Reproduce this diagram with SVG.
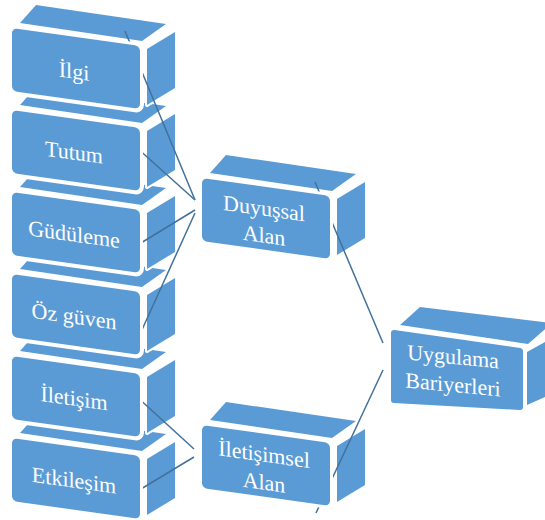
<svg xmlns="http://www.w3.org/2000/svg" xmlns:xlink="http://www.w3.org/1999/xlink" width="545" height="520" viewBox="0 0 545 520">
<style>
.face{fill:#5B9BD5;stroke:#fff;stroke-width:4;stroke-linejoin:round;paint-order:stroke}
.front{fill:#5B9BD5;stroke:#fff;stroke-width:8;paint-order:stroke}
.lbl{font-family:"Liberation Serif","Times New Roman",serif;font-size:22px;fill:#fff;text-anchor:middle}
.conn{fill:none;stroke:#41719C;stroke-width:1.5}
</style>
<defs>
<polygon id="top" points="8,-5 24,-23 154,-4 130,13"/>
<polygon id="side" points="135,21 163,4 163,60 135,77"/>
<rect id="ff" width="128" height="63" rx="5"/>
<mask id="hideFront" maskUnits="userSpaceOnUse" x="0" y="0" width="545" height="520">
<rect width="545" height="520" fill="#fff"/>
<g fill="#000" stroke="#000" stroke-width="6">
<use href="#ff" transform="translate(12,28) skewY(8)"/>
<use href="#ff" transform="translate(12,110) skewY(8)"/>
<use href="#ff" transform="translate(12,192) skewY(8)"/>
<use href="#ff" transform="translate(12,274) skewY(8)"/>
<use href="#ff" transform="translate(12,356) skewY(8)"/>
<use href="#ff" transform="translate(12,438) skewY(8)"/>
<use href="#ff" transform="translate(202,178) skewY(8)"/>
<use href="#ff" transform="translate(202,425) skewY(8)"/>
<polygon points="394,333 520,351 520,407 394,400" stroke-width="12" stroke-linejoin="round"/>
</g>
</mask>
</defs>

<g id="n-etkilesim">
<use href="#top" class="face" transform="translate(12,438)"/>
<use href="#side" class="face" transform="translate(12,438)"/>
<g transform="translate(12,438) skewY(8)"><use href="#ff" class="front"/><text class="lbl" x="62" y="41">Etkileşim</text></g>
</g>
<g id="n-iletisim">
<use href="#top" class="face" transform="translate(12,356)"/>
<use href="#side" class="face" transform="translate(12,356)"/>
<g transform="translate(12,356) skewY(8)"><use href="#ff" class="front"/><text class="lbl" x="62" y="41">İletişim</text></g>
</g>
<g id="n-ozguven">
<use href="#top" class="face" transform="translate(12,274)"/>
<use href="#side" class="face" transform="translate(12,274)"/>
<g transform="translate(12,274) skewY(8)"><use href="#ff" class="front"/><text class="lbl" x="62" y="41">Öz güven</text></g>
</g>
<g id="n-guduleme">
<use href="#top" class="face" transform="translate(12,192)"/>
<use href="#side" class="face" transform="translate(12,192)"/>
<g transform="translate(12,192) skewY(8)"><use href="#ff" class="front"/><text class="lbl" x="62" y="41">Güdüleme</text></g>
</g>
<g id="n-tutum">
<use href="#top" class="face" transform="translate(12,110)"/>
<use href="#side" class="face" transform="translate(12,110)"/>
<g transform="translate(12,110) skewY(8)"><use href="#ff" class="front"/><text class="lbl" x="62" y="41">Tutum</text></g>
</g>
<g id="n-ilgi">
<use href="#top" class="face" transform="translate(12,28)"/>
<use href="#side" class="face" transform="translate(12,28)"/>
<g transform="translate(12,28) skewY(8)"><use href="#ff" class="front"/><text class="lbl" x="62" y="42">İlgi</text></g>
</g>

<g id="n-duyussal">
<use href="#top" class="face" transform="translate(202,178)"/>
<use href="#side" class="face" transform="translate(202,178)"/>
<g transform="translate(202,178) skewY(8)"><use href="#ff" class="front"/><text class="lbl" x="62" y="29">Duyuşsal</text><text class="lbl" x="62" y="56">Alan</text></g>
</g>
<g id="n-iletisimsel">
<use href="#top" class="face" transform="translate(202,425)"/>
<use href="#side" class="face" transform="translate(202,425)"/>
<g transform="translate(202,425) skewY(8)"><use href="#ff" class="front"/><text class="lbl" x="62" y="28">İletişimsel</text><text class="lbl" x="62" y="56">Alan</text></g>
</g>
<g id="n-uygulama">
<polygon class="face" points="400,325 420,307 552,323 528,344"/>
<polygon class="face" points="527,352 556,336 556,392 527,405"/>
<polygon points="394,333 520,351 520,407 394,400" fill="#5B9BD5" stroke="#5B9BD5" stroke-width="6" stroke-linejoin="round"/>
<g transform="translate(391,330) skewY(5.5)"><text class="lbl" x="62" y="28">Uygulama</text><text class="lbl" x="62" y="56">Bariyerleri</text></g>
</g>

<g id="connectors" class="conn" mask="url(#hideFront)">
<line x1="125" y1="31" x2="195" y2="200"/>
<line x1="136" y1="147" x2="195" y2="200"/>
<line x1="136" y1="246" x2="195" y2="210"/>
<line x1="136" y1="343" x2="195" y2="213"/>
<line x1="136" y1="396" x2="194" y2="449"/>
<line x1="136" y1="492" x2="194" y2="457"/>
<line x1="315" y1="182" x2="383" y2="343"/>
<line x1="316" y1="513" x2="383" y2="370"/>
</g>
</svg>
